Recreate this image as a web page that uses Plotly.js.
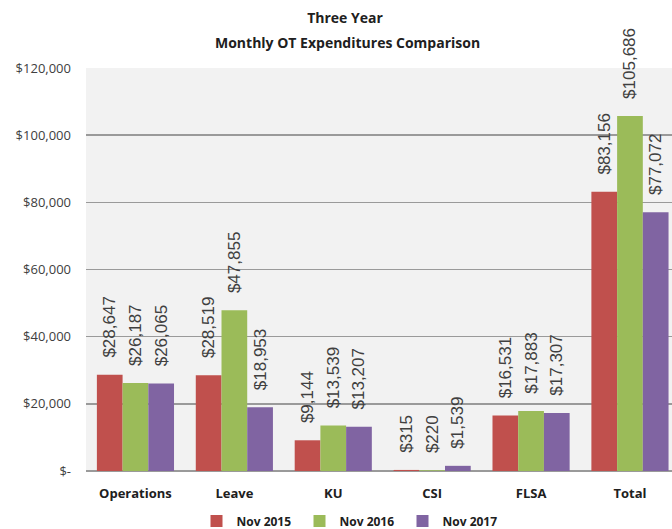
<!DOCTYPE html>
<html><head><meta charset="utf-8">
<script src="https://cdn.plot.ly/plotly-3.0.1.min.js"></script>
<style>html,body{margin:0;padding:0;background:#fff}</style>
</head><body>
<div id="chart" style="width:672px;height:529px"></div>
<script>
const categories = ["Operations", "Leave", "KU", "CSI", "FLSA", "Total"];
const nov2015 = [28647, 28519, 9144, 315, 16531, 83156];
const nov2016 = [26187, 47855, 13539, 220, 17883, 105686];
const nov2017 = [26065, 18953, 13207, 1539, 17307, 77072];
const seriesNames = ["Nov 2015", "Nov 2016", "Nov 2017"];
const seriesColors = ["#c0504d", "#9bbb59", "#8064a2"];
const yTickVals = [0, 20000, 40000, 60000, 80000, 100000, 120000];
const yTickText = ["$-", "$20,000", "$40,000", "$60,000", "$80,000", "$100,000", "$120,000"];
const titleLine1 = "Three Year";
const titleLine2 = "Monthly OT Expenditures Comparison";

const seriesData = [nov2015, nov2016, nov2017];
const traces = seriesData.map((vals, i) => ({
  type: "bar",
  name: seriesNames[i],
  x: categories,
  y: vals,
  marker: {color: seriesColors[i]},
  texttemplate: "\u00a0\u00a0\u00a0$%{y:,}",
  textposition: "outside",
  textangle: -90,
  constraintext: "none",
  cliponaxis: false,
  textfont: {family: "Liberation Sans, Arial, sans-serif", size: 17, color: "#404040"},
  hoverinfo: "skip"
}));

const layout = {
  width: 672, height: 529,
  paper_bgcolor: "#ffffff",
  plot_bgcolor: "#f2f2f2",
  margin: {l: 86, r: 0, t: 68, b: 58},
  barmode: "group",
  bargap: 0.22,
  bargroupgap: 0,
  title: {
    text: "<b>" + titleLine1 + "</b>",
    font: {family: "Open Sans, sans-serif", size: 14, color: "#202020"},
    x: 345/672, xanchor: "center", xref: "container",
    y: 1 - 18/529, yanchor: "middle", yref: "container"
  },
  annotations: [{
    text: "<b>" + titleLine2 + "</b>",
    xref: "paper", yref: "paper",
    x: (347 - 86) / 586, y: 1 + (68 - 42) / 403,
    xanchor: "center", yanchor: "middle", showarrow: false,
    font: {family: "Open Sans, sans-serif", size: 14, color: "#202020"}
  }],
  xaxis: {
    range: [-0.5, 5.425],
    tickfont: {family: "Open Sans, sans-serif", size: 13, color: "#202020", weight: "bold"},
    showgrid: false, zeroline: false, showline: false,
    ticks: "", ticklabelstandoff: 13, fixedrange: true
  },
  yaxis: {
    range: [0, 120000],
    tickvals: yTickVals, ticktext: yTickText,
    tickfont: {family: "Open Sans, sans-serif", size: 13, color: "#404040"},
    showgrid: true, gridcolor: "#9a9a9a", gridwidth: 1.5,
    zeroline: true, zerolinecolor: "#9a9a9a", zerolinewidth: 1.5,
    ticks: "", ticklabelstandoff: 14,
    showline: false, fixedrange: true
  },
  legend: {
    orientation: "h",
    x: 351/672, xanchor: "center", xref: "container",
    y: 8/529, yanchor: "middle", yref: "container",
    font: {family: "Open Sans, sans-serif", size: 12, color: "#202020", weight: "bold"},
    itemwidth: 30, entrywidth: 58, traceorder: "normal"
  },
  showlegend: true
};
Plotly.newPlot("chart", traces, layout, {displayModeBar: false, staticPlot: true});
</script>
</body></html>
